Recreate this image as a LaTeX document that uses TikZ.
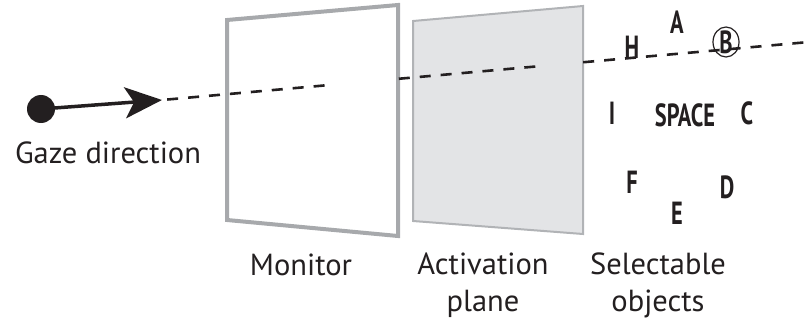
\documentclass[tikz,border=0pt]{standalone}
\usepackage{fontspec}
\setmainfont{PT Sans}
\newfontfamily\condfont[FakeStretch=0.7]{PT Sans}
\usetikzlibrary{arrows.meta,positioning,calc}
\definecolor{inkDark}{HTML}{231F20}
\definecolor{frameGray}{HTML}{A7A9AC}
\definecolor{planeFill}{HTML}{E3E4E6}
\definecolor{planeEdge}{HTML}{B1B3B6}
\tikzset{
  labeltext/.style={font=\fontsize{30.5}{37}\selectfont, text=inkDark, align=center, inner sep=0pt},
  keytext/.style={font=\condfont\bfseries\fontsize{32}{36}\selectfont, text=inkDark, inner sep=0pt},
  gazeArc/.style={-{Stealth[length=37pt, width=31pt, inset=9pt]}, line width=3.5pt, draw=inkDark},
  rayLine/.style={draw=inkDark, line width=2.6pt, dash pattern=on 11pt off 10pt},
  monitorFrame/.style={draw=frameGray, line width=4pt, fill=white},
  planeFrame/.style={draw=planeEdge, line width=2pt, fill=planeFill},
}
\begin{document}
\begin{tikzpicture}[x=1pt, y=-1pt]
    \useasboundingbox (0,0) rectangle (809,321);
    % gaze ray
    \coordinate (tip) at (162,100);
    \coordinate (far) at (809,42);
    \coordinate (rayA) at ($(tip)!0.255!(far)$);
    \coordinate (rayB) at ($(tip)!0.366!(far)$);
    \coordinate (rayC) at ($(tip)!0.584!(far)$);
    \coordinate (rayD) at ($(tip)!0.651!(far)$);
    % planes
    \draw[monitorFrame] (227,20) -- (398,5) -- (398,236) -- (227,220) -- cycle;
    \draw[planeFrame] (413,21) -- (583,6) -- (583,234) -- (413,221) -- cycle;
    \draw[rayLine] ($(tip)!0.008!(far)$) -- (rayA);
    \draw[rayLine] (rayB) -- (rayC);
    \draw[rayLine] (rayD) -- (far);
    % eye
    \node[circle, fill=inkDark, minimum size=28pt, inner sep=0pt] (eye) at (41,109) {};
    \draw[gazeArc] (eye.center) -- (tip);
    \node[labeltext] (gaze) at (108,153) {Gaze direction};
    % labels
    \node[labeltext] (monitor) at (301,265) {Monitor};
    \node[labeltext, anchor=north] (activation) at (483,253) {Activation\\plane};
    \node[labeltext, anchor=north] (selectable) at (658,253) {Selectable\\objects};
    % selectable objects
    \node[keytext] (keyA) at (677,22) {A};
    \node[keytext] (keyH) at (632,47) {H};
    \node[keytext] (keyB) at (726,42) {B};
    \draw[inkDark, line width=1.2pt] (keyB.center) ellipse [x radius=13, y radius=15];
    \node[keytext] (keyI) at (612,113) {I};
    \node[keytext] (keySpace) at (685,115) {SPACE};
    \node[keytext] (keyC) at (747,113) {C};
    \node[keytext] (keyF) at (632,182) {F};
    \node[keytext] (keyD) at (727,187) {D};
    \node[keytext] (keyE) at (677,213) {E};
  \end{tikzpicture}
\end{document}
